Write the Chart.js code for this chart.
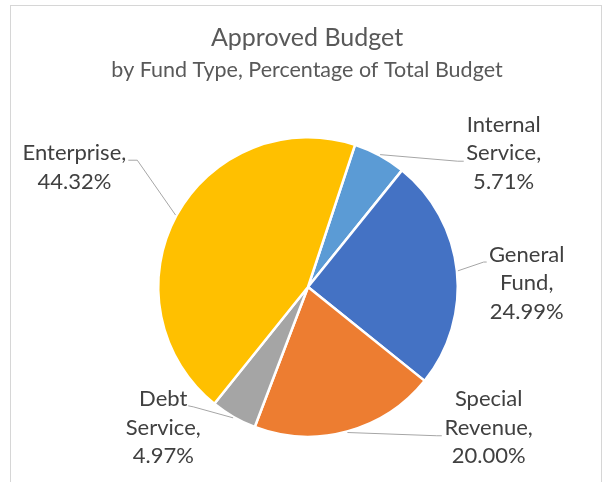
<!DOCTYPE html>
<html>
<head>
<meta charset="utf-8">
<script src="https://cdn.jsdelivr.net/npm/chart.js@4"></script>
<style>
  body { margin: 0; background: #fff; }
  #wrap { position: relative; width: 602px; height: 482px; }
  #frame { position: absolute; left: 10px; top: 5px; width: 590px; height: 480px;
           border: 1px solid #d6d6d6; border-bottom: none; }
  canvas { position: absolute; left: 0; top: 0; }
</style>
</head>
<body>
<div id="wrap">
  <div id="frame"></div>
  <canvas id="myChart" width="602" height="482"></canvas>
</div>
<script>
let funds = ['Internal Service', 'General Fund', 'Special Revenue', 'Debt Service', 'Enterprise'];
let shares = [5.71, 24.99, 20.00, 4.97, 44.32];
let colors = ['#5B9BD5', '#4472C4', '#ED7D31', '#A5A5A5', '#FFC000'];
let title = 'Approved Budget';
let subtitle = 'by Fund Type, Percentage of Total Budget';

// label placement, px offsets from pie centre for a 150px radius
const labelSpots = [
  { text: [196, -134], elbow: [150, -126], end: [156, -126] },
  { text: [219, -4], elbow: [176, -25], end: [179, -25] },
  { text: [181, 141], elbow: [129, 149], end: [134, 149] },
  { text: [-145, 141], elbow: [-115, 120], end: [-120, 119] },
  { text: [-234, -120], elbow: [-171, -127], end: [-180, -127] },
];

const fontFam = 'Lato, "Open Sans", sans-serif';

const labelPlugin = {
  id: 'fundLabels',
  afterDraw(chart) {
    const ctx = chart.ctx;
    const meta = chart.getDatasetMeta(0);
    const area = chart.chartArea;
    ctx.save();

    // titles
    ctx.fillStyle = '#595959';
    ctx.textAlign = 'center';
    ctx.textBaseline = 'alphabetic';
    const cx = (area.left + area.right) / 2 - 1;
    ctx.font = '25px ' + fontFam;
    ctx.fillText(title, cx, 46);
    ctx.font = '21.5px ' + fontFam;
    ctx.fillText(subtitle, cx, 77);

    meta.data.forEach((arc, i) => {
      const p = arc.getProps(['x', 'y', 'startAngle', 'endAngle', 'outerRadius'], true);
      const s = p.outerRadius / 150;
      const mid = (p.startAngle + p.endAngle) / 2;
      const spot = labelSpots[i];

      // leader line
      ctx.strokeStyle = '#a6a6a6';
      ctx.lineWidth = 1;
      ctx.beginPath();
      ctx.moveTo(p.x + Math.cos(mid) * (p.outerRadius + 1), p.y + Math.sin(mid) * (p.outerRadius + 1));
      ctx.lineTo(p.x + spot.elbow[0] * s, p.y + spot.elbow[1] * s);
      ctx.lineTo(p.x + spot.end[0] * s, p.y + spot.end[1] * s);
      ctx.stroke();

      // text
      const words = funds[i].split(' ');
      words[words.length - 1] += ',';
      const lines = words.concat([shares[i].toFixed(2) + '%']);
      const lh = 28.5;
      const tx = p.x + spot.text[0] * s;
      const ty = p.y + spot.text[1] * s;
      ctx.fillStyle = '#404040';
      ctx.font = '22px ' + fontFam;
      ctx.textBaseline = 'middle';
      lines.forEach((ln, k) => {
        ctx.fillText(ln, tx, ty + (k - (lines.length - 1) / 2) * lh);
      });
    });
    ctx.restore();
  }
};

const ctx = document.getElementById('myChart').getContext('2d');
new Chart(ctx, {
  type: 'pie',
  data: {
    labels: funds,
    datasets: [{
      data: shares,
      backgroundColor: colors,
      borderColor: '#ffffff',
      borderWidth: 2.5,
    }]
  },
  options: {
    responsive: false,
    animation: false,
    rotation: 18.3,
    layout: { padding: { top: 136, bottom: 44, left: 157, right: 143 } },
    plugins: {
      legend: { display: false },
      tooltip: { enabled: false },
      title: { display: false },
    },
    events: [],
  },
  plugins: [labelPlugin],
});
</script>
</body>
</html>
